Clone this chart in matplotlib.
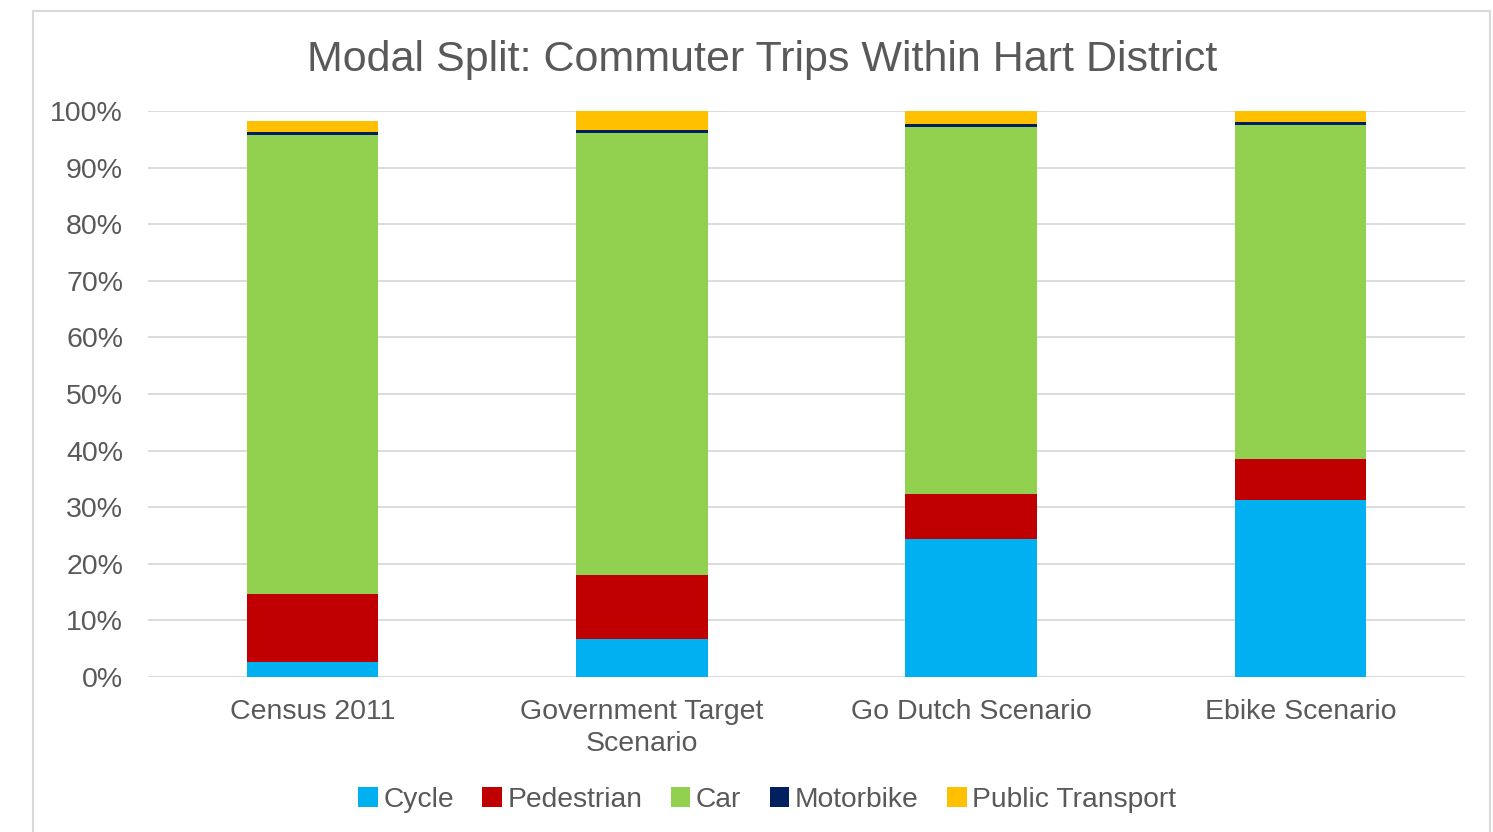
import matplotlib.pyplot as plt
from matplotlib.patches import Rectangle
from matplotlib.ticker import PercentFormatter
import numpy as np

categories = ['Census 2011', 'Government Target\nScenario', 'Go Dutch Scenario', 'Ebike Scenario']
modes = ['Cycle', 'Pedestrian', 'Car', 'Motorbike', 'Public Transport']
cycle = [2.65, 6.7, 24.4, 31.3]
pedestrian = [12.0, 11.3, 7.9, 7.2]
car = [81.1, 78.1, 64.9, 59.0]
motorbike = [0.55, 0.5, 0.5, 0.55]
public_transport = [1.9, 3.4, 2.3, 1.95]
colors = ['#00B0F0', '#C00000', '#92D050', '#002060', '#FFC000']

plt.rcParams['font.family'] = ['Liberation Sans', 'DejaVu Sans']
text_col = '#595959'

fig = plt.figure(figsize=(14.93, 8.32), dpi=100)
ax = fig.add_axes([148/1493, 1 - 677/832, (1465-148)/1493, (677-111)/832])

# light frame round the chart
fig.patches.append(Rectangle((33/1493, -0.05), (1490-33)/1493, 1 - 11/832 + 0.05,
                             transform=fig.transFigure, fill=False,
                             edgecolor='#D9D9D9', linewidth=1.5))

x = np.arange(len(categories))
bottom = np.zeros(len(categories))
series = [cycle, pedestrian, car, motorbike, public_transport]
handles = []
for name, vals, c in zip(modes, series, colors):
    vals = np.array(vals) / 100
    b = ax.bar(x, vals, 0.4, bottom=bottom, color=c, label=name, zorder=3)
    bottom += vals
    handles.append(b)

ax.set_xlim(-0.5, len(categories) - 0.5)
ax.set_ylim(0, 1)
ax.set_yticks(np.arange(0, 1.01, 0.1))
ax.yaxis.set_major_formatter(PercentFormatter(1.0, decimals=0))
ax.grid(axis='y', color='#D9D9D9', linewidth=1.3, zorder=0)
for s in ['top', 'right', 'left', 'bottom']:
    ax.spines[s].set_visible(False)
ax.tick_params(axis='both', length=0, colors=text_col, labelsize=20.5)
ax.tick_params(axis='y', pad=18)
ax.tick_params(axis='x', pad=16)
ax.set_xticks(x)
ax.set_xticklabels(categories, linespacing=1.3)

fig.text(762/1493, 1 - 60/832, 'Modal Split: Commuter Trips Within Hart District',
         ha='center', va='center', fontsize=31, color=text_col)

leg = fig.legend(handles=handles, labels=modes, loc='center', bbox_to_anchor=(767/1493, 1 - 800/832),
                 ncol=5, frameon=False, fontsize=20.3, handlelength=0.7, handleheight=0.7,
                 handletextpad=0.2, columnspacing=1.0)
for t in leg.get_texts():
    t.set_color(text_col)

fig.savefig('out.png', dpi=100)
